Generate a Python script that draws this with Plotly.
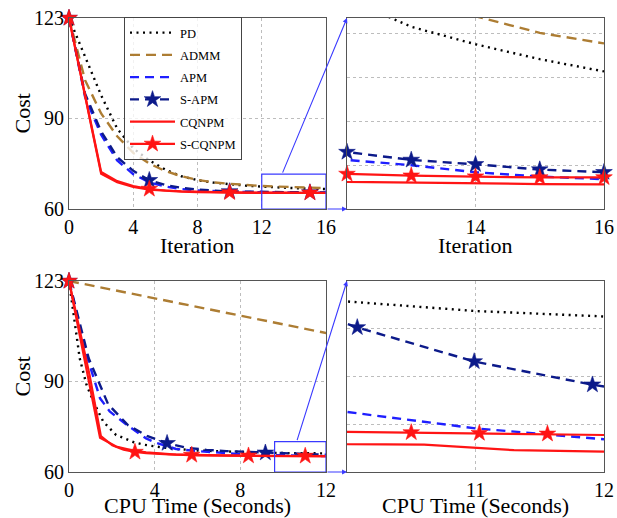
import plotly.graph_objects as go

# ---------------- data: cost vs iteration ----------------
iterations = list(range(17))
pd_iter = [123, 110, 97.5, 86.5, 80, 76, 73, 70.8, 69.5, 68.7, 68.1, 67.7, 67.4, 67.08, 66.88, 66.71, 66.57]
admm_iter = [123, 102.5, 91.5, 84, 78.5, 75, 72.5, 70.8, 69.6, 68.8, 68.3, 67.9, 67.6, 67.4, 67.2, 67.01, 66.89]
apm_iter = [123, 97, 84.5, 76, 71.5, 68.8, 67.4, 66.6, 66.1, 65.85, 65.7, 65.62, 65.56, 65.5, 65.42, 65.37, 65.34]
sapm_iter = [123, 98, 85.6, 77.1, 72.6, 69.5, 67.9, 67.0, 66.4, 66.0, 65.8, 65.72, 65.65, 65.56, 65.51, 65.45, 65.42]
cqnpm_iter = [123, 97.3, 71.6, 68.8, 67.3, 66.4, 65.95, 65.7, 65.55, 65.45, 65.39, 65.34, 65.31, 65.3, 65.29, 65.285, 65.28]
scqnpm_iter = [123, 97.6, 72.2, 69.2, 67.6, 66.6, 66.1, 65.85, 65.68, 65.55, 65.48, 65.43, 65.4, 65.38, 65.37, 65.36, 65.36]

# ---------------- data: cost vs CPU time ----------------
pd_t = [0, 0.28, 0.5, 0.82, 1.14, 1.6, 2.2, 3.0, 3.5, 4.25, 5.0, 6.0, 7.0, 8.0, 9.0, 10.0, 11.0, 12.0]
pd_tc = [123, 108.5, 97.5, 88.7, 83.2, 76.6, 72.2, 69.9, 69.0, 68.2, 67.6, 67.1, 66.8, 66.6, 66.4, 66.25, 66.18, 66.14]
admm_t = [0, 13.3]
admm_tc = [123, 104]
apm_t = [0, 0.8, 1.45, 1.9, 2.7, 3.6, 4.0, 5.0, 6.0, 7.0, 8.0, 9.0, 10.0, 11.0, 12.0]
apm_tc = [123, 99, 84.3, 80, 75.5, 71.1, 69.8, 67.6, 66.9, 66.3, 65.9, 65.65, 65.44, 65.32, 65.24]
sapm_t = [0, 0.92, 1.83, 2.75, 3.67, 4.58, 5.5, 6.42, 7.34, 8.25, 9.17, 10.08, 10.99, 11.91, 12.84]
sapm_tc = [123, 97.5, 82.3, 75.5, 71.8, 69.5, 68.0, 67.3, 66.9, 66.6, 66.35, 66.06, 65.81, 65.64, 65.5]
cqnpm_t = [0, 0.72, 1.45, 2.2, 2.9, 3.6, 4.3, 5.0, 6.0, 7.0, 8.0, 9.0, 10.0, 10.6, 11.3, 12.0]
cqnpm_tc = [123, 97, 71.3, 68.4, 67.2, 66.5, 66.0, 65.7, 65.5, 65.4, 65.32, 65.26, 65.205, 65.2, 65.16, 65.15]
scqnpm_t = [0, 0.96, 1.49, 2.02, 2.55, 3.08, 3.61, 4.14, 4.67, 5.2, 5.73, 6.26, 6.79, 7.32, 7.85,
            8.38, 8.91, 9.44, 9.95, 10.5, 11.03, 11.56, 12.09]
scqnpm_tc = [123, 92, 71.8, 68.8, 67.4, 66.6, 66.2, 65.95, 65.8, 65.7, 65.6, 65.53, 65.47, 65.43, 65.4,
             65.37, 65.34, 65.31, 65.295, 65.29, 65.285, 65.28, 65.27]

# tick labels
iter_ticks = [0, 4, 8, 12, 16]
time_ticks = [0, 4, 8, 12]
cost_ticks = [60, 90, 123]
zoom_iter_ticks = [14, 16]
zoom_time_ticks = [11, 12]

# ---------------- layout constants ----------------
FONT = "Liberation Serif"
W, H = 617, 518
BOX = {  # plot areas in pixels: left, right, top, bottom
    "tl": (69, 326, 18, 209),
    "tr": (347, 604, 18, 209),
    "bl": (69, 326, 281, 472),
    "br": (347, 604, 281, 472),
}
AX = {"tl": ("x", "y"), "tr": ("x2", "y2"), "bl": ("x3", "y3"), "br": ("x4", "y4")}
RNG = {
    "tl": ([0, 16], [60, 123]),
    "tr": ([12, 16], [65, 67.18]),
    "bl": ([0, 12], [60, 123]),
    "br": ([10, 12], [65, 66.4]),
}
# axis-title centres in pixels: (text, x, y, angle)
TITLES = [
    ("Cost", 21.5, 114, -90),
    ("Cost", 21.5, 377, -90),
    ("Iteration", 197.5, 246, 0),
    ("Iteration", 475.5, 246, 0),
    ("CPU Time (Seconds)", 197.5, 505.5, 0),
    ("CPU Time (Seconds)", 475.5, 505.5, 0),
]
ZOOM_BOX_TOP = (12, 16, 60, 71.5)
ZOOM_BOX_BOT = (9.6, 12, 60, 70)
CONNECT_TOP_X = 13.26
CONNECT_BOT_X = 10.63
ZCOL = "#3a3aff"

STY = {
    "PD": dict(color="black", dash="2px,4.5px", width=2.4),
    "ADMM": dict(color="#ad7d33", dash="10px,6px", width=2.4),
    "APM": dict(color="#1f1fff", dash="9px,6px", width=2.4),
    "S-APM": dict(color="#0c1a8a", dash="9px,6px", width=2.4),
    "CQNPM": dict(color="#ff1414", dash="solid", width=2.2),
    "S-CQNPM": dict(color="#ff1414", dash="solid", width=2.2),
}
STAR = {"S-APM", "S-CQNPM"}

iter_series = [("PD", pd_iter), ("ADMM", admm_iter), ("APM", apm_iter),
               ("S-APM", sapm_iter), ("CQNPM", cqnpm_iter), ("S-CQNPM", scqnpm_iter)]
time_series = [("PD", pd_t, pd_tc), ("ADMM", admm_t, admm_tc), ("APM", apm_t, apm_tc),
               ("S-APM", sapm_t, sapm_tc), ("CQNPM", cqnpm_t, cqnpm_tc), ("S-CQNPM", scqnpm_t, scqnpm_tc)]

fig = go.Figure()


def marker_style(name):
    c = STY[name]["color"]
    return dict(symbol="star", size=12.5, color=c, line=dict(color=c, width=0.6))


def add_series(panel, name, xs, ys, every):
    xa, ya = AX[panel]
    s = STY[name]
    fig.add_trace(go.Scatter(x=xs, y=ys, mode="lines", xaxis=xa, yaxis=ya, showlegend=False,
                             line=dict(color=s["color"], dash=s["dash"], width=s["width"]),
                             hoverinfo="skip"))
    if name in STAR:
        xr = RNG[panel][0]
        idx = [i for i in range(0, len(xs), every) if xr[0] <= xs[i] <= xr[1]]
        fig.add_trace(go.Scatter(x=[xs[i] for i in idx], y=[ys[i] for i in idx], mode="markers",
                                 xaxis=xa, yaxis=ya, showlegend=False, cliponaxis=False,
                                 marker=marker_style(name), hoverinfo="skip"))


for name, ys in iter_series:
    add_series("tl", name, iterations, ys, 5)
for name, ys in iter_series:
    add_series("tr", name, iterations, ys, 1)
for name, xs, ys in time_series:
    add_series("bl", name, xs, ys, 5)
for name, xs, ys in time_series:
    add_series("br", name, xs, ys, 1)

# legend entries
for name, _ in iter_series:
    s = STY[name]
    fig.add_trace(go.Scatter(x=[None], y=[None], name=name, legendgroup=name,
                             mode="lines+markers" if name in STAR else "lines",
                             line=dict(color=s["color"], dash=s["dash"], width=s["width"]),
                             marker=marker_style(name)))


def dom(panel):
    l, r, t, b = BOX[panel]
    return [l / W, r / W], [1 - b / H, 1 - t / H]


def axis(panel, which, tickvals, show_labels=True):
    xd, yd = dom(panel)
    xr, yr = RNG[panel]
    return dict(domain=xd if which == "x" else yd, range=xr if which == "x" else yr,
                showline=True, mirror=True, linecolor="#555555", linewidth=1.2,
                showgrid=True, gridcolor="#bdbdbd", griddash="dot", gridwidth=1,
                zeroline=False, ticks="", tickvals=tickvals, showticklabels=show_labels,
                tickfont=dict(family=FONT, size=20, color="black"), automargin=False,
                fixedrange=True)


def quarters(rng, n):
    step = (rng[1] - rng[0]) / n
    return [rng[0] + k * step for k in range(1, n)]


layout = dict(
    width=W, height=H, margin=dict(l=0, r=0, t=0, b=0),
    paper_bgcolor="white", plot_bgcolor="white",
    font=dict(family=FONT, color="black"),
    xaxis=axis("tl", "x", iter_ticks),
    yaxis=axis("tl", "y", cost_ticks),
    xaxis2=axis("tr", "x", zoom_iter_ticks),
    yaxis2=axis("tr", "y", [65.5, 66, 66.5, 67], show_labels=False),
    xaxis3=axis("bl", "x", time_ticks),
    yaxis3=axis("bl", "y", cost_ticks),
    xaxis4=axis("br", "x", zoom_time_ticks),
    yaxis4=axis("br", "y", quarters(RNG["br"][1], 4), show_labels=False),
    legend=dict(x=124 / W, y=1 - 17 / H, xanchor="left", yanchor="top",
                bgcolor="rgba(255,255,255,0.78)", bordercolor="#444444", borderwidth=1,
                font=dict(family=FONT, size=12.5, color="black"), tracegroupgap=3,
                traceorder="grouped", itemwidth=45),
    showlegend=True,
)
layout["xaxis"]["anchor"] = "y"; layout["yaxis"]["anchor"] = "x"
layout["xaxis2"]["anchor"] = "y2"; layout["yaxis2"]["anchor"] = "x2"
layout["xaxis3"]["anchor"] = "y3"; layout["yaxis3"]["anchor"] = "x3"
layout["xaxis4"]["anchor"] = "y4"; layout["yaxis4"]["anchor"] = "x4"
fig.update_layout(**layout)

for text, tx, ty, ang in TITLES:
    fig.add_annotation(text=text, x=tx / W, y=1 - ty / H, xref="paper", yref="paper",
                       xanchor="center", yanchor="middle", showarrow=False, textangle=ang,
                       borderpad=0, font=dict(family=FONT, size=22, color="black"))

# zoom rectangles
for (x0, x1, y0, y1), (xa, ya) in [(ZOOM_BOX_TOP, AX["tl"]), (ZOOM_BOX_BOT, AX["bl"])]:
    fig.add_shape(type="rect", xref=xa, yref=ya, x0=x0, x1=x1, y0=y0, y1=y1,
                  line=dict(color=ZCOL, width=1.2), layer="above")


def to_px(panel, x, y):
    l, r, t, b = BOX[panel]
    xr, yr = RNG[panel]
    return (l + (x - xr[0]) / (xr[1] - xr[0]) * (r - l),
            b - (y - yr[0]) / (yr[1] - yr[0]) * (b - t))


def arrow(src_panel, src_xy, dst_panel, dst_xy):
    tx, ty = to_px(dst_panel, *dst_xy)
    sx, sy = to_px(src_panel, *src_xy)
    xa, ya = AX[dst_panel]
    fig.add_annotation(x=dst_xy[0], y=dst_xy[1], xref=xa, yref=ya, axref="pixel", ayref="pixel",
                       ax=sx - tx, ay=sy - ty, text="", showarrow=True, arrowhead=2,
                       arrowsize=0.9, arrowwidth=1.1, arrowcolor=ZCOL, standoff=0)


arrow("tl", (CONNECT_TOP_X, ZOOM_BOX_TOP[3]), "tr", (RNG["tr"][0][0], RNG["tr"][1][1]))
arrow("tl", (ZOOM_BOX_TOP[1], ZOOM_BOX_TOP[2]), "tr", (RNG["tr"][0][0], RNG["tr"][1][0]))
arrow("bl", (CONNECT_BOT_X, ZOOM_BOX_BOT[3]), "br", (RNG["br"][0][0], RNG["br"][1][1]))
arrow("bl", (ZOOM_BOX_BOT[1], ZOOM_BOX_BOT[2]), "br", (RNG["br"][0][0], RNG["br"][1][0]))

fig.write_html("out.html", config={"displayModeBar": False},
               post_script="document.body.style.margin='0';document.body.style.overflow='hidden';")
